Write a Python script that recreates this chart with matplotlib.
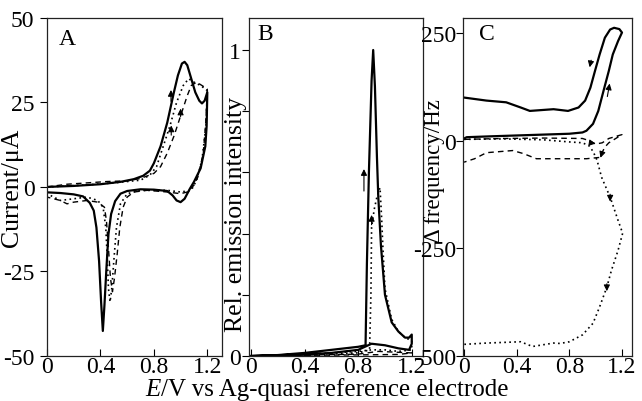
import matplotlib
matplotlib.use("Agg")
import matplotlib.pyplot as plt
import numpy as np

plt.rcParams['font.family'] = ['Liberation Serif', 'DejaVu Serif']
plt.rcParams['axes.unicode_minus'] = False

# ---- panel A : cyclic voltammograms (E / V, I / uA)
a_sol_E = [0.0, 0.2, 0.4, 0.55, 0.65, 0.72, 0.77, 0.8, 0.85, 0.9, 0.95, 0.98, 1.01, 1.03, 1.05, 1.08, 1.11, 1.14, 1.16, 1.18, 1.2,
           1.195, 1.185, 1.15, 1.1, 1.07, 1.03, 1.0, 0.97, 0.94, 0.9, 0.8, 0.7, 0.6, 0.55, 0.51, 0.48, 0.46, 0.445, 0.43, 0.418,
           0.405, 0.39, 0.37, 0.35, 0.32, 0.27, 0.2, 0.1, 0.0]
a_sol_I = [0.0, 0.3, 0.8, 1.5, 2.3, 3.3, 4.8, 7, 12, 19, 28, 33, 36.5, 37, 36, 32, 28, 25.5, 24.7, 25.5, 28,
           18, 12, 5.5, 1.5, -0.5, -3.5, -4.5, -4, -2.5, -1.2, -0.8, -0.7, -1.2, -2, -4.2, -8, -14, -24, -35, -42.6,
           -34, -22, -12, -7, -4.7, -2.8, -2.2, -1.8, -1.6]
a_dash_E = [0.0, 0.15, 0.3, 0.45, 0.6, 0.7, 0.8, 0.85, 0.9, 0.95, 1.0, 1.05, 1.08, 1.12, 1.16, 1.2,
            1.19, 1.17, 1.13, 1.1, 1.05, 1.0, 0.9, 0.75, 0.65, 0.6, 0.57, 0.545, 0.525, 0.505, 0.49, 0.475, 0.46, 0.445,
            0.43, 0.38, 0.3, 0.2, 0.15, 0.1, 0.0]
a_dash_I = [0.0, 0.8, 1.2, 1.6, 1.8, 2.5, 4, 6, 10, 15, 21, 27, 30, 31, 30, 29,
            20, 10, 3, 0.5, -1.5, -2, -1.5, -1, -1.5, -3, -6, -12, -20, -27, -31, -27, -18, -10,
            -6, -4.5, -4, -4.5, -5, -4, -3]
a_dot_E = [0.0, 0.3, 0.5, 0.7, 0.77, 0.82, 0.87, 0.92, 0.97, 1.02, 1.06, 1.1, 1.15, 1.2,
           1.19, 1.16, 1.12, 1.08, 1.0, 0.9, 0.7, 0.6, 0.55, 0.52, 0.5, 0.485, 0.472, 0.46, 0.45, 0.44, 0.42, 0.38,
           0.3, 0.2, 0.1, 0.0]
a_dot_I = [0.0, 0.6, 1.2, 2, 3.5, 6, 12, 18, 25, 30, 32, 31, 30, 28.5,
           18, 8, 2, -1, -1.5, -1, -1, -2, -5, -12, -22, -30, -34, -30, -20, -12, -6, -4,
           -3, -3.5, -4, -2]

# ---- panel B : relative emission intensity
b_sol_E = [0.0, 0.2, 0.4, 0.6, 0.8, 0.855, 0.865, 0.88, 0.9, 0.912, 0.925, 0.94, 0.95, 0.97, 1.0, 1.05, 1.1, 1.15,
           1.18, 1.2, 1.2, 1.18, 1.1, 1.0, 0.9, 0.85, 0.8, 0.6, 0.4, 0.0]
b_sol_I = [0.0, 0.003, 0.01, 0.02, 0.03, 0.035, 0.3, 0.6, 0.9, 1.0, 0.88, 0.65, 0.52, 0.36, 0.2, 0.11, 0.08, 0.06,
           0.06, 0.07, 0.04, 0.02, 0.025, 0.035, 0.04, 0.03, 0.02, 0.01, 0.005, 0.0]
b_dot_E = [0.0, 0.4, 0.8, 0.885, 0.895, 0.9, 0.92, 0.94, 0.963, 0.975, 0.985, 1.0, 1.05, 1.1, 1.15, 1.2,
           1.2, 1.1, 1.0, 0.9, 0.8, 0.4, 0.0]
b_dot_I = [0.0, 0.005, 0.01, 0.02, 0.2, 0.42, 0.48, 0.52, 0.55, 0.45, 0.35, 0.22, 0.12, 0.08, 0.06, 0.05,
           0.02, 0.015, 0.02, 0.02, 0.015, 0.005, 0.0]
b_dash_E = [0.0, 0.4, 0.8, 0.95, 1.1, 1.2, 1.1, 0.9, 0.4, 0.0]
b_dash_I = [0.0, 0.003, 0.006, 0.015, 0.012, 0.01, 0.005, 0.004, 0.002, 0.0]

# ---- panel C : frequency change (Hz)
c_sol_E = [0.0, 0.02, 0.2, 0.4, 0.6, 0.8, 0.9, 0.93, 0.98, 1.02, 1.06, 1.1, 1.13, 1.17, 1.2,
           1.18, 1.14, 1.11, 1.07, 1.03, 0.995, 0.96, 0.92, 0.87, 0.79, 0.68, 0.5, 0.43, 0.32, 0.17, 0.0]
c_sol_F = [5, 8, 10, 12, 14, 16, 19, 23, 39, 69, 116, 162, 200, 231, 251,
           259, 262, 258, 239, 200, 162, 123, 93, 77, 69, 73, 69, 77, 89, 93, 100]
c_dash_E = [0.0, 0.3, 0.6, 0.9, 0.95, 1.0, 1.05, 1.1, 1.2,
            1.1, 1.07, 1.03, 0.93, 0.55, 0.45, 0.37, 0.17, 0.08, 0.0]
c_dash_F = [3, 5, 6, 5, 0, -8, -5, 5, 14,
            -5, -15, -39, -42, -42, -30, -23, -28, -42, -50]
c_dot_E = [0.0, 0.3, 0.6, 0.8, 0.9, 0.95, 0.98, 1.01, 1.045, 1.08, 1.11, 1.17, 1.205,
           1.17, 1.12, 1.085, 1.03, 0.98, 0.9, 0.8, 0.73, 0.68, 0.52, 0.43, 0.17, 0.0]
c_dot_F = [3, 4, 2, -3, -5, -12, -25, -45, -85, -110, -131, -185, -215,
           -255, -301, -340, -386, -424, -451, -467, -471, -470, -478, -467, -470, -473]

fig = plt.figure(figsize=(6.42, 4.02), dpi=100)
bot, hgt = 0.112, 0.841
axA = fig.add_axes([0.0732, bot, 0.2726, hgt])
axB = fig.add_axes([0.3879, bot, 0.2710, hgt])
axC = fig.add_axes([0.7212, bot, 0.2632, hgt])

solid = dict(color='k', lw=1.6, ls='-')
dash = dict(color='k', lw=1.0, ls=(0, (4, 3)))
dot = dict(color='k', lw=1.2, ls=(0, (1, 2)))

def arrow(ax, tail, head):
    ax.annotate('', xy=head, xytext=tail,
                arrowprops=dict(arrowstyle='-|>', color='k', lw=0.8, mutation_scale=9))

# A
axA.plot(a_sol_E, a_sol_I, **solid)
axA.plot(a_dash_E, a_dash_I, **dash)
axA.plot(a_dot_E, a_dot_I, **dot)
arrow(axA, (0.928, 24.5), (0.928, 29.5))
arrow(axA, (0.93, 14.5), (0.93, 19))
arrow(axA, (1.0, 20), (1.0, 24))
axA.set_xlim(0, 1.31)
axA.set_ylim(-50, 50)
axA.set_yticks([50, 25, 0, -25, -50])
axA.set_ylabel('Current/μA', fontsize=18.5)
axA.yaxis.set_label_coords(-0.135, 0.5)
axA.tick_params(axis='y', pad=4)
axA.text(0.07, 0.94, 'A', transform=axA.transAxes, fontsize=17, va='center')

# B
axB.plot(b_sol_E, b_sol_I, **solid)
axB.plot(b_dash_E, b_dash_I, **dash)
axB.plot(b_dot_E, b_dot_I, **dot)
arrow(axB, (0.843, 0.53), (0.843, 0.62))
arrow(axB, (0.9, 0.42), (0.9, 0.47))
axB.set_xlim(-0.015, 1.284)
axB.set_ylim(0, 1.105)
axB.set_yticks([0, 1])
axB.set_yticks([0.2, 0.4, 0.6, 0.8], minor=True)
axB.set_ylabel('Rel. emission intensity', fontsize=18.5)
axB.yaxis.set_label_coords(-0.01, 0.42)
axB.tick_params(axis='y', pad=1)
axB.text(0.05, 0.955, 'B', transform=axB.transAxes, fontsize=17, va='center')

# C
axC.plot(c_sol_E, c_sol_F, **solid)
axC.plot(c_dash_E, c_dash_F, **dash)
axC.plot(c_dot_E, c_dot_F, **dot)
arrow(axC, (0.97, 193), (0.95, 164))
arrow(axC, (1.085, 96), (1.11, 139))
arrow(axC, (0.96, -5), (1.02, -8))
arrow(axC, (1.05, -27), (1.03, -46))
arrow(axC, (1.11, -118), (1.11, -148))
arrow(axC, (1.085, -326), (1.085, -356))
axC.set_xlim(-0.008, 1.276)
axC.set_ylim(-500, 285)
axC.set_yticks([250, 0, -250, -500])
axC.set_ylabel('Δ frequency/Hz', fontsize=16.5)
axC.yaxis.set_label_coords(-0.105, 0.55)
axC.tick_params(axis='y', pad=0)
axC.text(0.095, 0.955, 'C', transform=axC.transAxes, fontsize=17, va='center')

for ax in (axA, axB, axC):
    ax.set_xticks([0, 0.4, 0.8, 1.2])
    ax.set_xticklabels(['0', '0.4', '0.8', '1.2'])
    ax.tick_params(axis='x', direction='in', length=5, width=0.8, labelsize=17, pad=0)
    ax.tick_params(axis='y', which='both', direction='out', length=5, width=0.8, labelsize=17)
    ax.tick_params(top=False, right=False)
    for s in ax.spines.values():
        s.set_linewidth(0.9)
        s.set_color('#222222')

# x label: italic E followed by the rest in upright type
t1 = fig.text(0.226, 0.015, 'E', fontsize=18, style='italic', ha='left', va='baseline')
fig.canvas.draw()
fig.text(0.0, 0.0, '/V vs Ag-quasi reference electrode', fontsize=18, ha='left', va='baseline',
         transform=matplotlib.transforms.offset_copy(fig.transFigure, fig=fig, x=0, y=0))
bb = t1.get_window_extent()
fig.texts[-1].set_position(((bb.x1 + 0.5) / fig.bbox.width, 0.015))

fig.savefig('out.png', dpi=100)
